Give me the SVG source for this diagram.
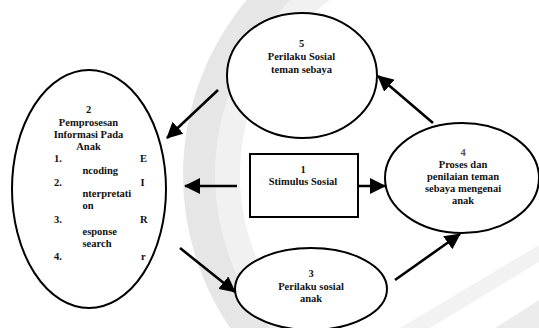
<svg xmlns="http://www.w3.org/2000/svg" width="539" height="328" viewBox="0 0 539 328" font-family="'Liberation Serif', 'DejaVu Serif', serif">
<style>
text{font-family:'Liberation Serif','DejaVu Serif',serif;font-size:10.5px;font-weight:bold;fill:#111}
.c{text-anchor:middle}
.n{fill:#fff;stroke:#000;stroke-width:2}
.ln{stroke:#000;stroke-width:2.6;fill:none;marker-end:url(#ah)}
</style>
<defs>
<marker id="ah" markerUnits="userSpaceOnUse" markerWidth="16" markerHeight="16" refX="15" refY="8" orient="auto">
<path d="M0,0 L16,8 L0,16 Z" fill="#000"/>
</marker>
</defs>
<rect width="539" height="328" fill="#fff"/>
<g id="watermark" fill="none">
<circle cx="455" cy="175" r="228" stroke="#f1f1f1" stroke-width="26"/>
<circle cx="455" cy="175" r="256" stroke="#e6e6e6" stroke-width="32"/>
<path d="M400,328 L539,245 L539,262 L430,328 Z" fill="#f2f2f2"/>
<path d="M495,328 L539,300 L539,328 Z" fill="#ececec"/>
</g>
<g id="connectors">
<line class="ln" x1="218" y1="90" x2="167" y2="138"/>
<line class="ln" x1="237" y1="186" x2="185" y2="186"/>
<line class="ln" x1="352" y1="186" x2="385" y2="186"/>
<line class="ln" x1="180" y1="248" x2="235" y2="292"/>
<line class="ln" x1="395" y1="280" x2="460" y2="234"/>
<line class="ln" x1="433" y1="123" x2="378" y2="76"/>
</g>
<g id="node2">
<ellipse class="n" cx="89" cy="189" rx="77" ry="119"/>
<text class="c" x="88.5" y="112.5">2</text>
<text class="c" x="88.5" y="126">Pemprosesan</text>
<text class="c" x="88.5" y="137.5">Informasi Pada</text>
<text class="c" x="88.5" y="149.5">Anak</text>
<text x="54" y="162">1.</text>
<text x="140" y="162">E</text>
<text x="82.5" y="174">ncoding</text>
<text x="54" y="185.5">2.</text>
<text x="140.5" y="185.5">I</text>
<text x="82.5" y="197">nterpretati</text>
<text x="82.5" y="208.5">on</text>
<text x="54" y="223">3.</text>
<text x="140" y="223">R</text>
<text x="82.5" y="234.5">esponse</text>
<text x="82.5" y="247">search</text>
<text x="54" y="259.5">4.</text>
<text x="141" y="259.5">r</text>
</g>
<g id="node5">
<ellipse class="n" cx="302" cy="75.5" rx="75" ry="62.5"/>
<text class="c" x="301.5" y="47">5</text>
<text class="c" x="301.5" y="59.5">Perilaku Sosial</text>
<text class="c" x="301.5" y="72.5">teman sebaya</text>
</g>
<g id="node1">
<rect class="n" x="250" y="154" width="108" height="63"/>
<text class="c" x="303" y="172.5">1</text>
<text class="c" x="303" y="184.5">Stimulus Sosial</text>
</g>
<g id="node4">
<ellipse class="n" cx="462" cy="178" rx="77" ry="55"/>
<text class="c" x="463" y="155.5" style="fill:#555">4</text>
<text class="c" x="463" y="167.5">Proses dan</text>
<text class="c" x="463" y="179.8">penilaian teman</text>
<text class="c" x="463" y="192">sebaya mengenai</text>
<text class="c" x="463" y="204.3">anak</text>
</g>
<g id="node3">
<ellipse class="n" cx="311" cy="289" rx="76" ry="41"/>
<text class="c" x="311" y="276.5">3</text>
<text class="c" x="311" y="290">Perilaku sosial</text>
<text class="c" x="311" y="301.5">anak</text>
</g>
</svg>
